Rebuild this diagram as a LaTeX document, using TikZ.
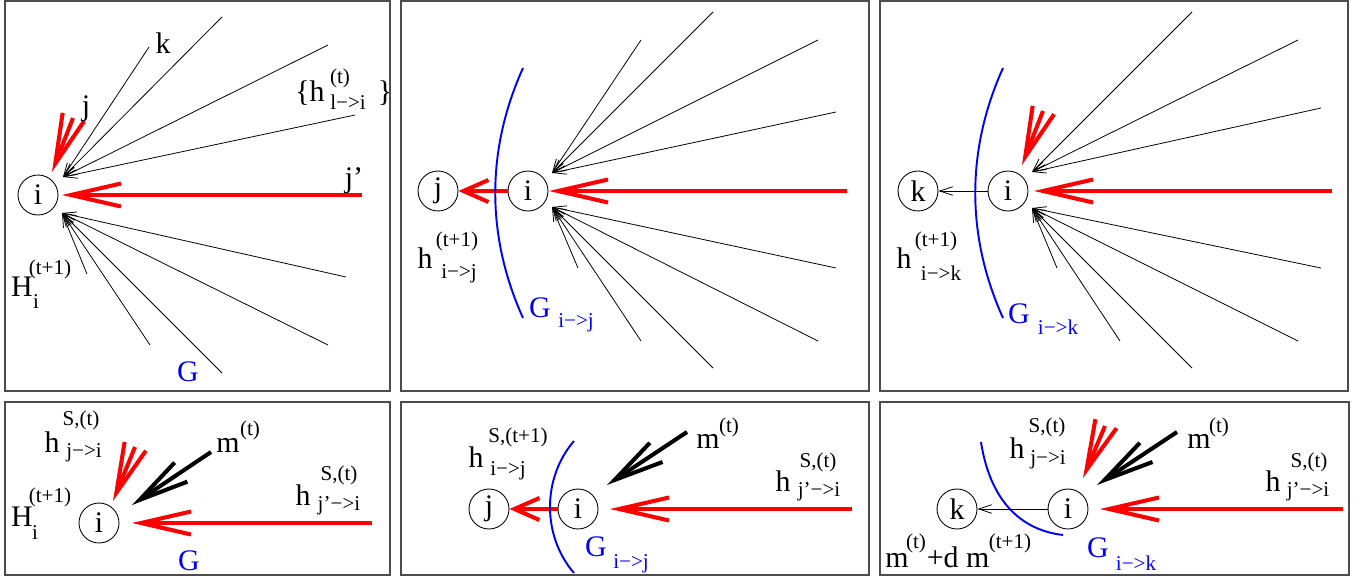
\documentclass[tikz,border=0pt]{standalone}
\usepackage{fontspec}
\setmainfont{Liberation Serif}
\usetikzlibrary{arrows.meta}

\tikzset{
  panel/.style={draw=black!70,line width=0.6pt},
  vtx/.style={draw,circle,line width=0.5pt,minimum size=0.8cm,inner sep=0pt,font=\fontsize{17}{17}\selectfont},
  inflow/.style={line width=0.45pt,-{Straight Barb[length=0.26cm,width=0.17cm]}},
  hot/.style={draw=red,line width=2.3pt,-{Straight Barb[length=1cm,width=0.46cm]}},
  hotshort/.style={draw=red,line width=2.3pt,-{Straight Barb[length=0.5cm,width=0.44cm]}},
  field/.style={draw=black,line width=2.3pt,-{Straight Barb[length=1cm,width=0.46cm]}},
  cutline/.style={draw=blue,line width=1.1pt},
  lbl/.style={inner sep=0pt,font=\fontsize{17}{17}\selectfont},
  idx/.style={inner sep=0pt,font=\fontsize{12}{12}\selectfont},
}

\begin{document}
\begin{tikzpicture}[x=0.02cm,y=-0.02cm]
  \useasboundingbox (0,0) rectangle (1363,578);

  % panel 1: the whole graph G around i
  \draw[panel] (5,1) rectangle (390,391);
  \node[vtx] (i1) at (38,195) {i};
  \coordinate (i1up) at (63,177);
  \coordinate (i1dn) at (62,213);
  \foreach \x/\y [count=\n] in {149/47,222/17,328/45,355/115}{
    \coordinate (a1\n) at (\x,\y);
    \draw[inflow] (a1\n) -- (i1up);
  }
  \foreach \x/\y [count=\n] in {87/274,150/345,222/373,328/345,346/277}{
    \coordinate (b1\n) at (\x,\y);
    \draw[inflow] (b1\n) -- (i1dn);
  }
  \coordinate (jp1) at (362,195);
  \coordinate (i1e) at (62,195);
  \draw[hot] (jp1) -- (i1e);
  \coordinate (j1) at (73,118);
  \coordinate (i1j) at (52,172);
  \draw[hot] (j1) -- (i1j);
  \node[lbl] (k1lab) at (163,43) {k};
  \node[lbl] (j1lab) at (86,109) {j};
  \node[lbl] (hl1) at (310,93) {\{h};
  \node[idx] (hl1sup) at (340,78) {(t)};
  \node[idx] (hl1sub) at (348,102) {l−>i};
  \node[lbl] (hl1end) at (385,93) {\}};
  \node[lbl] (jp1lab) at (354,181) {j’};
  \node[lbl] (H1) at (22,287) {H};
  \node[idx] (H1sup) at (50,269) {(t+1)};
  \node[idx] (H1sub) at (36,302) {i};
  \node[lbl,text=blue] (G1) at (188,372) {G};

  % panel 2: cavity graph G_{i->j}
  \draw[panel] (401,1) rectangle (869,391);
  \node[vtx] (j2) at (438,191) {j};
  \node[vtx] (i2) at (528,191) {i};
  \coordinate (i2up) at (552,173);
  \coordinate (i2dn) at (552,207);
  \foreach \x/\y [count=\n] in {641/40,713/12,818/40,836/112}{
    \coordinate (a2\n) at (\x,\y);
    \draw[inflow] (a2\n) -- (i2up);
  }
  \foreach \x/\y [count=\n] in {578/268,641/341,713/368,818/341,836/268}{
    \coordinate (b2\n) at (\x,\y);
    \draw[inflow] (b2\n) -- (i2dn);
  }
  \coordinate (jp2) at (847,191);
  \coordinate (i2e) at (549,191);
  \draw[hot] (jp2) -- (i2e);
  \draw[hotshort] (i2) -- (j2);
  \draw[cutline] (523,68) .. controls (486,150) and (486,236) .. (523,318);
  \node[lbl] (h2) at (425,258) {h};
  \node[idx] (h2sup) at (457,241) {(t+1)};
  \node[idx] (h2sub) at (459,274) {i−>j};
  \node[lbl,text=blue] (G2) at (540,308) {G};
  \node[idx,text=blue] (G2sub) at (576,323) {i−>j};

  % panel 3: cavity graph G_{i->k}
  \draw[panel] (880,1) rectangle (1348,391);
  \node[vtx] (k3) at (918,191) {k};
  \node[vtx] (i3) at (1008,191) {i};
  \coordinate (i3up) at (1032,172);
  \coordinate (i3dn) at (1032,208);
  \foreach \x/\y [count=\n] in {1192/12,1298/40,1321/108}{
    \coordinate (a3\n) at (\x,\y);
    \draw[inflow] (a3\n) -- (i3up);
  }
  \foreach \x/\y [count=\n] in {1057/268,1120/341,1192/368,1298/341,1321/268}{
    \coordinate (b3\n) at (\x,\y);
    \draw[inflow] (b3\n) -- (i3dn);
  }
  \coordinate (jp3) at (1332,191);
  \coordinate (i3e) at (1034,191);
  \draw[hot] (jp3) -- (i3e);
  \coordinate (j3) at (1043,111);
  \coordinate (i3j) at (1022,165);
  \draw[hot] (j3) -- (i3j);
  \draw[inflow] (i3) -- (k3);
  \draw[cutline] (1003,68) .. controls (966,150) and (966,236) .. (1003,318);
  \node[lbl] (h3) at (904,258) {h};
  \node[idx] (h3sup) at (936,241) {(t+1)};
  \node[idx] (h3sub) at (941,273) {i−>k};
  \node[lbl,text=blue] (G3) at (1019,314) {G};
  \node[idx,text=blue] (G3sub) at (1058,327) {i−>k};

  % panel 4: fields on G
  \draw[panel] (5,402) rectangle (390,575);
  \node[vtx] (i4) at (99,523) {i};
  \coordinate (jp4) at (372,523);
  \coordinate (i4e) at (132,523);
  \draw[hot] (jp4) -- (i4e);
  \coordinate (j4) at (135,447);
  \coordinate (i4j) at (113,501);
  \draw[hot] (j4) -- (i4j);
  \coordinate (m4) at (211,452);
  \coordinate (i4m) at (132,505);
  \draw[field] (m4) -- (i4m);
  \node[lbl] (h4) at (52,442) {h};
  \node[idx] (h4sup) at (81,420) {S,(t)};
  \node[idx] (h4sub) at (84,453) {j−>i};
  \node[lbl] (m4lab) at (228,445) {m};
  \node[idx] (m4sup) at (250,430) {(t)};
  \node[lbl] (hp4) at (303,495) {h};
  \node[idx] (hp4sup) at (339,475) {S,(t)};
  \node[idx] (hp4sub) at (339,506) {j’−>i};
  \node[lbl] (H4) at (22,517) {H};
  \node[idx] (H4sup) at (50,497) {(t+1)};
  \node[idx] (H4sub) at (35,533) {i};
  \node[lbl,text=blue] (G4) at (189,561) {G};

  % panel 5: fields on G_{i->j}
  \draw[panel] (401,402) rectangle (869,575);
  \node[vtx] (j5) at (489,509) {j};
  \node[vtx] (i5) at (578,509) {i};
  \coordinate (jp5) at (852,509);
  \coordinate (i5e) at (610,509);
  \draw[hot] (jp5) -- (i5e);
  \draw[hotshort] (i5) -- (j5);
  \coordinate (m5) at (687,432);
  \coordinate (i5m) at (607,485);
  \draw[field] (m5) -- (i5m);
  \draw[cutline] (574,441) .. controls (542,478) and (542,536) .. (574,573);
  \node[lbl] (h5) at (476,457) {h};
  \node[idx] (h5sup) at (518,437) {S,(t+1)};
  \node[idx] (h5sub) at (508,471) {i−>j};
  \node[lbl] (m5lab) at (708,441) {m};
  \node[idx] (m5sup) at (729,427) {(t)};
  \node[lbl] (hp5) at (783,481) {h};
  \node[idx] (hp5sup) at (818,462) {S,(t)};
  \node[idx] (hp5sub) at (819,492) {j’−>i};
  \node[lbl,text=blue] (G5) at (596,547) {G};
  \node[idx,text=blue] (G5sub) at (631,564) {i−>j};

  % panel 6: fields on G_{i->k}
  \draw[panel] (880,402) rectangle (1349,575);
  \node[vtx] (k6) at (957,509) {k};
  \node[vtx] (i6) at (1068,509) {i};
  \draw[inflow] (i6) -- (k6);
  \coordinate (jp6) at (1343,509);
  \coordinate (i6e) at (1100,509);
  \draw[hot] (jp6) -- (i6e);
  \coordinate (j6) at (1105,426);
  \coordinate (i6j) at (1083,478);
  \draw[hot] (j6) -- (i6j);
  \coordinate (m6) at (1177,432);
  \coordinate (i6m) at (1097,485);
  \draw[field] (m6) -- (i6m);
  \draw[cutline] (981,442) .. controls (990,500) and (1020,530) .. (1063,535);
  \node[lbl] (h6) at (1017,448) {h};
  \node[idx] (h6sup) at (1047,427) {S,(t)};
  \node[idx] (h6sub) at (1048,460) {j−>i};
  \node[lbl] (m6lab) at (1199,441) {m};
  \node[idx] (m6sup) at (1219,427) {(t)};
  \node[lbl] (hp6) at (1273,481) {h};
  \node[idx] (hp6sup) at (1309,462) {S,(t)};
  \node[idx] (hp6sub) at (1308,492) {j’−>i};
  \node[lbl] (dm6) at (897,560) {m};
  \node[idx] (dm6sup) at (916,543) {(t)};
  \node[lbl] (dm6mid) at (958,557) {+d m};
  \node[idx] (dm6sup2) at (1010,543) {(t+1)};
  \node[lbl,text=blue] (G6) at (1098,548) {G};
  \node[idx,text=blue] (G6sub) at (1136,563) {i−>k};
\end{tikzpicture}
\end{document}
